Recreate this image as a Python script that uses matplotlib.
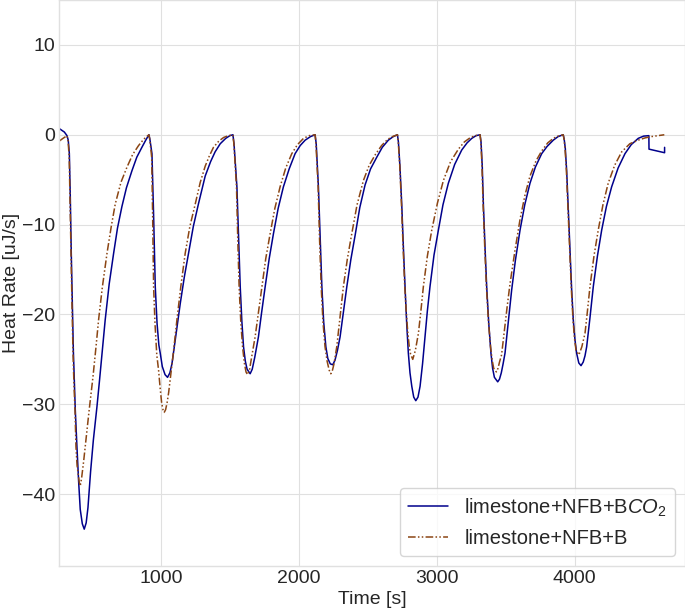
# heat flow curves for the two limestone mixes

import matplotlib
matplotlib.use('Agg')
import matplotlib.pyplot as plt

# values (time in s, heat rate in uJ/s)
t_bco2 = [262, 300, 319, 328, 336, 343, 350, 358, 365, 372, 379, 391, 403, 415, 430, 444, 458, 471, 490, 510,
          536, 555, 575, 596, 625, 657, 685, 717, 750, 790, 825, 862, 890, 913,
          920, 935, 947, 959, 972, 985, 995, 1010, 1030, 1048, 1065, 1080, 1091, 1115, 1140, 1170, 1200,
          1235, 1272, 1321, 1360, 1393, 1430, 1470, 1500, 1522,
          1530, 1551, 1563, 1575, 1587, 1599, 1612, 1625, 1647, 1662, 1680, 1707, 1730, 1756, 1785, 1816,
          1850, 1888, 1930, 1973, 2010, 2046, 2085, 2118,
          2126, 2142, 2155, 2167, 2180, 2196, 2210, 2228, 2246, 2262, 2280, 2299, 2322, 2348, 2377, 2408,
          2442, 2480, 2520, 2565, 2605, 2649, 2685, 2715,
          2722, 2733, 2746, 2758, 2770, 2782, 2794, 2806, 2819, 2833, 2848, 2864, 2879, 2897, 2915, 2932,
          2951, 2980, 3012, 3045, 3084, 3130, 3181, 3220, 3254, 3285, 3314,
          3321, 3330, 3338, 3350, 3362, 3377, 3393, 3405, 3418, 3442, 3455, 3468, 3481, 3495, 3518, 3543,
          3570, 3604, 3638, 3676, 3715, 3761, 3800, 3845, 3880, 3917,
          3924, 3932, 3942, 3954, 3966, 3978, 3990, 4002, 4014, 4030, 4046, 4062, 4075, 4087, 4110, 4135,
          4165, 4196, 4230, 4268, 4315, 4365, 4410, 4461, 4500, 4538,
          4539, 4652, 4652]
hr_bco2 = [0.7, 0.3, -0.1, -0.6, -2.1, -7.0, -13.2, -19.0, -24.0, -27.5, -30.6, -34.7, -38.5, -41.7, -43.3, -43.9, -43.2, -41.5, -37.5, -34.0,
           -30.3, -27.3, -24.0, -20.6, -16.6, -13.2, -10.4, -8.0, -5.9, -4.0, -2.5, -1.4, -0.6, 0.0,
           -0.5, -2.1, -9.0, -16.9, -21.0, -23.4, -24.3, -25.8, -26.7, -27.0, -26.5, -25.5, -24.3, -21.6, -18.8, -15.8, -13.2,
           -10.2, -7.7, -4.6, -3.0, -1.9, -1.0, -0.4, -0.1, 0.0,
           -1.0, -5.8, -11.5, -16.9, -20.8, -23.6, -25.2, -26.1, -26.6, -26.1, -24.8, -22.5, -19.8, -16.9, -13.8, -11.0,
           -8.2, -5.8, -3.8, -2.1, -1.2, -0.6, -0.2, 0.0,
           -1.0, -5.8, -11.5, -16.9, -20.8, -23.6, -24.9, -25.5, -25.6, -25.1, -24.0, -22.5, -19.9, -16.9, -13.9, -11.2,
           -8.1, -5.6, -3.8, -2.5, -1.4, -0.6, -0.2, 0.0,
           -0.8, -3.5, -7.7, -12.5, -16.9, -21.0, -24.3, -26.5, -28.0, -29.2, -29.6, -29.2, -28.0, -25.5, -22.5, -19.6,
           -16.9, -13.4, -10.6, -7.8, -5.4, -3.3, -1.7, -0.9, -0.4, -0.1, 0.0,
           -0.8, -3.5, -7.7, -12.5, -16.9, -21.0, -24.3, -26.0, -27.0, -27.5, -27.2, -26.5, -25.5, -24.3, -20.9, -17.3,
           -14.0, -10.6, -7.8, -5.4, -3.6, -2.1, -1.3, -0.6, -0.2, 0.0,
           -0.5, -1.5, -4.0, -8.5, -13.2, -17.2, -20.6, -22.8, -24.3, -25.4, -25.7, -25.3, -24.6, -23.6, -20.5, -16.9,
           -13.5, -10.6, -8.0, -5.8, -3.7, -2.1, -1.1, -0.4, -0.15, -0.1,
           -1.6, -2.0, -1.4]

t_b = [263, 290, 319, 327, 335, 341, 348, 356, 363, 370, 377, 384, 392, 400, 408, 415, 425, 440, 460, 480,
       507, 530, 548, 575, 609, 640, 669, 710, 754, 795, 838, 875, 913,
       920, 933, 940, 947, 957, 970, 983, 995, 1005, 1015, 1024, 1034, 1045, 1056, 1067, 1090, 1116, 1145,
       1176, 1210, 1249, 1285, 1321, 1350, 1381, 1420, 1455, 1490, 1522,
       1529, 1548, 1557, 1567, 1579, 1592, 1605, 1617, 1628, 1642, 1655, 1683, 1707, 1732, 1760, 1792,
       1826, 1864, 1905, 1949, 1990, 2034, 2075, 2118,
       2124, 2140, 2150, 2162, 2175, 2190, 2205, 2220, 2232, 2244, 2255, 2275, 2298, 2323, 2352, 2384,
       2422, 2468, 2510, 2555, 2600, 2645, 2680, 2715,
       2721, 2732, 2744, 2756, 2768, 2779, 2790, 2800, 2810, 2826, 2845, 2867, 2885, 2903, 2932, 2964,
       3005, 3048, 3100, 3157, 3200, 3245, 3280, 3314,
       3320, 3328, 3336, 3348, 3360, 3375, 3390, 3402, 3413, 3432, 3444, 3455, 3470, 3490, 3510, 3531,
       3567, 3604, 3640, 3676, 3720, 3761, 3805, 3845, 3880, 3917,
       3923, 3930, 3940, 3952, 3964, 3976, 3988, 3999, 4010, 4031, 4052, 4075, 4090, 4111, 4140, 4171,
       4205, 4243, 4290, 4341, 4400, 4461, 4510, 4558, 4605, 4650]
hr_b = [-0.7, -0.4, -0.1, -0.7, -2.5, -7.5, -13.2, -19.5, -24.5, -28.0, -30.6, -34.7, -36.8, -37.8, -38.7, -39.1, -38.2, -36.3, -33.4, -30.6,
        -27.0, -23.5, -20.6, -17.0, -13.2, -10.2, -7.7, -5.3, -3.6, -2.2, -1.2, -0.5, 0.0,
        -0.6, -2.5, -9.0, -16.9, -21.0, -24.5, -26.2, -28.3, -29.8, -30.6, -30.9, -30.6, -29.8, -28.7, -27.3, -24.3, -20.6, -16.8,
        -13.2, -10.2, -7.7, -5.3, -3.5, -2.4, -1.4, -0.7, -0.3, -0.1, 0.0,
        -1.0, -5.8, -11.5, -16.9, -20.8, -23.6, -25.4, -26.4, -26.7, -26.2, -25.0, -22.5, -19.8, -16.9, -13.8, -11.0,
        -8.2, -5.8, -3.7, -2.1, -1.1, -0.4, -0.1, 0.0,
        -1.0, -5.8, -11.5, -16.9, -20.8, -23.6, -25.2, -26.2, -26.6, -26.2, -25.5, -23.6, -20.4, -16.9, -13.8, -11.0,
        -7.8, -5.1, -3.4, -2.2, -1.2, -0.5, -0.2, 0.0,
        -0.8, -3.5, -7.7, -12.5, -16.9, -19.8, -22.0, -23.5, -24.4, -25.0, -24.0, -22.1, -19.6, -16.9, -13.5, -10.6,
        -7.6, -5.1, -3.0, -1.6, -0.8, -0.3, -0.1, 0.0,
        -0.8, -3.5, -7.7, -12.5, -16.9, -20.8, -23.6, -25.1, -26.0, -26.4, -26.0, -25.3, -24.5, -21.8, -19.2, -16.6,
        -12.9, -9.4, -6.7, -4.6, -2.9, -1.8, -0.9, -0.4, -0.15, 0.0,
        -0.5, -1.5, -4.0, -8.5, -13.2, -17.2, -20.6, -22.7, -24.0, -24.5, -23.6, -22.1, -20.0, -16.9, -13.5, -10.6,
        -7.8, -5.4, -3.4, -1.9, -1.0, -0.6, -0.35, -0.2, -0.1, 0.0]

labels = ['limestone+NFB+B$CO_2$', 'limestone+NFB+B']

plt.style.use('seaborn-v0_8-whitegrid')
plt.rcParams['font.family'] = ['Liberation Sans', 'DejaVu Sans']
plt.rcParams['mathtext.fontset'] = 'custom'
plt.rcParams['mathtext.rm'] = 'Liberation Sans'
plt.rcParams['mathtext.it'] = 'Liberation Sans:italic'
plt.rcParams['grid.color'] = '#e0e0e0'
plt.rcParams['axes.edgecolor'] = '#e0e0e0'

fig = plt.figure(figsize=(6.85, 6.09), dpi=100)
ax = fig.add_axes([59 / 685, 43 / 609, 626 / 685, 566 / 609])

ax.plot(t_bco2, hr_bco2, color='darkblue', linewidth=1.1, label=labels[0])
ax.plot(t_b, hr_b, color='saddlebrown', linewidth=1.1,
        linestyle=(0, (5, 1.5, 1, 1.5, 1, 1.5)), label=labels[1])

ax.set_xlim(261, 4800)
ax.set_ylim(-48, 15)
ax.set_xticks([1000, 2000, 3000, 4000])
ax.tick_params(labelsize=14, pad=3)
ax.set_xlabel('Time [s]', fontsize=14, labelpad=3)
ax.set_ylabel('Heat Rate [uJ/s]', fontsize=14, labelpad=1)

ax.legend(loc='lower right', fontsize=14.5, frameon=True, borderaxespad=0.5)

fig.savefig('out.png', dpi=100)
